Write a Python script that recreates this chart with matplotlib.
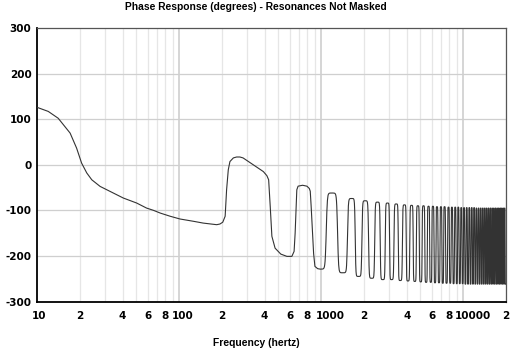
import numpy as np
import matplotlib
matplotlib.use("Agg")
import matplotlib.pyplot as plt
import matplotlib.transforms as mtrans
from matplotlib.ticker import FixedLocator, NullFormatter

# ---- data ----
# low-frequency part of the phase curve (Hz, degrees)
low_freq = [10, 12, 14.1, 17.1, 19.0, 20.6, 22.4, 24.3, 27.8, 32.7, 40.5, 50.3,
            59, 66, 73.7, 86.6, 101.5, 126, 148, 184, 194, 203, 211, 216, 222,
            228, 241, 254, 268, 282, 333, 392, 415, 427, 438, 450, 474, 520,
            574, 622, 645, 656, 674, 688, 740, 794, 825, 838, 850, 862, 885,
            904, 945, 982]
low_phase = [126, 117, 102, 69.5, 36.5, 3.7, -18, -33, -47.5, -58.5, -73, -84,
             -95, -100, -106, -113, -119, -124, -128, -131.5, -130, -126, -113,
             -55, -11, 7, 15, 17, 17, 15, 0, -15, -24, -33, -91, -157, -183,
             -196, -201, -201, -190, -150, -55, -47, -45, -47, -52, -58, -90,
             -128, -195, -223, -228, -229]

# resonance peaks (Hz, degrees)
peak_freq = [1190, 1644, 2042, 2494, 2934, 3380, 3861, 4330, 4797, 5253, 5700,
             6120, 6531, 6968, 7385, 7880, 8325, 8780, 9230, 9680, 10130, 10580,
             11030, 11480, 11930, 12380, 12830, 13280, 13730, 14180, 14630,
             15080, 15530, 15980, 16430, 16880, 17330, 17780, 18230, 18680,
             19130, 19580]
peak_phase = [-62, -74, -79, -82, -84, -86, -88, -89, -90, -90, -91, -91, -92,
              -92, -92, -93, -93, -93, -93, -94, -94, -94, -94, -94, -94, -95,
              -95, -95, -95, -95, -95, -95, -95, -95, -95, -95, -95, -95, -95,
              -95, -95, -95]
# resonance troughs (Hz, degrees)
trough_freq = [1420, 1830, 2270, 2715, 3127, 3600, 4080, 4560, 5020, 5480,
               5910, 6330, 6750, 7180, 7630, 8100, 8550, 9005, 9455, 9905,
               10355, 10805, 11255, 11705, 12155, 12605, 13055, 13505, 13955,
               14405, 14855, 15305, 15755, 16205, 16655, 17105, 17555, 18005,
               18455, 18905, 19355, 19805, 20255]
trough_phase = [-237, -245, -249, -252, -252, -254, -255, -256, -257, -258,
                -258, -259, -259, -260, -260, -260, -261, -261, -261, -261,
                -262, -262, -262, -262, -262, -262, -262, -262, -262, -262,
                -262, -262, -262, -262, -262, -262, -262, -262, -262, -262,
                -262, -262, -262]

x_tick_vals = [10, 20, 40, 60, 80, 100, 200, 400, 600, 800, 1000, 2000, 4000,
               6000, 8000, 10000, 20000]
x_tick_labels = ["10", "2", "4", "6", "8", "100", "2", "4", "6", "8", "1000",
                 "2", "4", "6", "8", "10000", "2"]
y_tick_vals = [300, 200, 100, 0, -100, -200, -300]

# ---- build curve: low part, then alternating extrema joined by steep steps ----
ext_f = [low_freq[-1]]
ext_v = [low_phase[-1]]
for i in range(len(peak_freq)):
    ext_f += [peak_freq[i], trough_freq[i]]
    ext_v += [peak_phase[i], trough_phase[i]]
ext_f.append(trough_freq[-1])
ext_v.append(trough_phase[-1])

fx = list(low_freq)
fy = list(low_phase)
k = 11.0
u = np.linspace(0, 1, 41)[1:]
s = 0.5 + 0.5 * np.tanh(k * (u - 0.5)) / np.tanh(k * 0.5)
for i in range(len(ext_f) - 1):
    fa, fb = ext_f[i], ext_f[i + 1]
    va, vb = ext_v[i], ext_v[i + 1]
    fx.extend(fa + (fb - fa) * u)
    fy.extend(va + (vb - va) * s)

fx = np.array(fx)
fy = np.array(fy)

# ---- figure ----
fig = plt.figure(figsize=(5.12, 3.53), dpi=100)
ax = fig.add_axes([37 / 512, 1 - 301.5 / 353, 469 / 512, 273.5 / 353])
ax.set_xscale("log")
ax.set_xlim(10, 20000)
ax.set_ylim(-300, 300)

# grid
minor = []
for dec in [10, 100, 1000, 10000]:
    for m in range(2, 10):
        if dec * m <= 20000:
            minor.append(dec * m)
for v in minor:
    ax.axvline(v, color="#e6e6e6", lw=0.9, zorder=0)
for v in [100, 1000, 10000]:
    ax.axvline(v, color="#d2d2d2", lw=1.3, zorder=0)
for v in [200, 100, 0, -100, -200]:
    ax.axhline(v, color="#cfcfcf", lw=0.9, zorder=0)

ax.plot(fx, fy, color="#333333", lw=0.8, zorder=3)

ax.xaxis.set_major_locator(FixedLocator(x_tick_vals))
ax.xaxis.set_minor_locator(FixedLocator([]))
ax.xaxis.set_minor_formatter(NullFormatter())
ax.set_xticks(x_tick_vals)
ax.set_xticklabels(x_tick_labels)
ax.set_yticks(y_tick_vals)
ax.set_yticklabels([str(v) for v in y_tick_vals])
ax.tick_params(axis="both", length=0, labelsize=7.5)
ax.tick_params(axis="x", pad=7)
ax.tick_params(axis="y", pad=4)
for lab in ax.get_xticklabels() + ax.get_yticklabels():
    lab.set_fontweight("bold")

# multi-digit frequency labels sit a little to the right of their grid line
shift_px = {"10": 2.5, "100": 3.5, "1000": 9, "10000": 10}
for lab in ax.get_xticklabels():
    dx = shift_px.get(lab.get_text(), 0)
    if dx:
        lab.set_transform(lab.get_transform() +
                          mtrans.ScaledTranslation(dx / 100, 0, fig.dpi_scale_trans))

for side in ["left", "bottom"]:
    ax.spines[side].set_color("black")
    ax.spines[side].set_linewidth(1.3)
for side in ["top", "right"]:
    ax.spines[side].set_color("#555555")
    ax.spines[side].set_linewidth(0.9)

fig.text(0.5, 1 - 7 / 353, "Phase Response (degrees) - Resonances Not Masked",
         ha="center", va="center", fontsize=7.4, fontweight="bold",
         family="Liberation Sans")
fig.text(0.5, 1 - 343 / 353, "Frequency (hertz)", ha="center", va="center",
         fontsize=7.4, fontweight="bold", family="Liberation Sans")

fig.savefig("out.png", dpi=100)
